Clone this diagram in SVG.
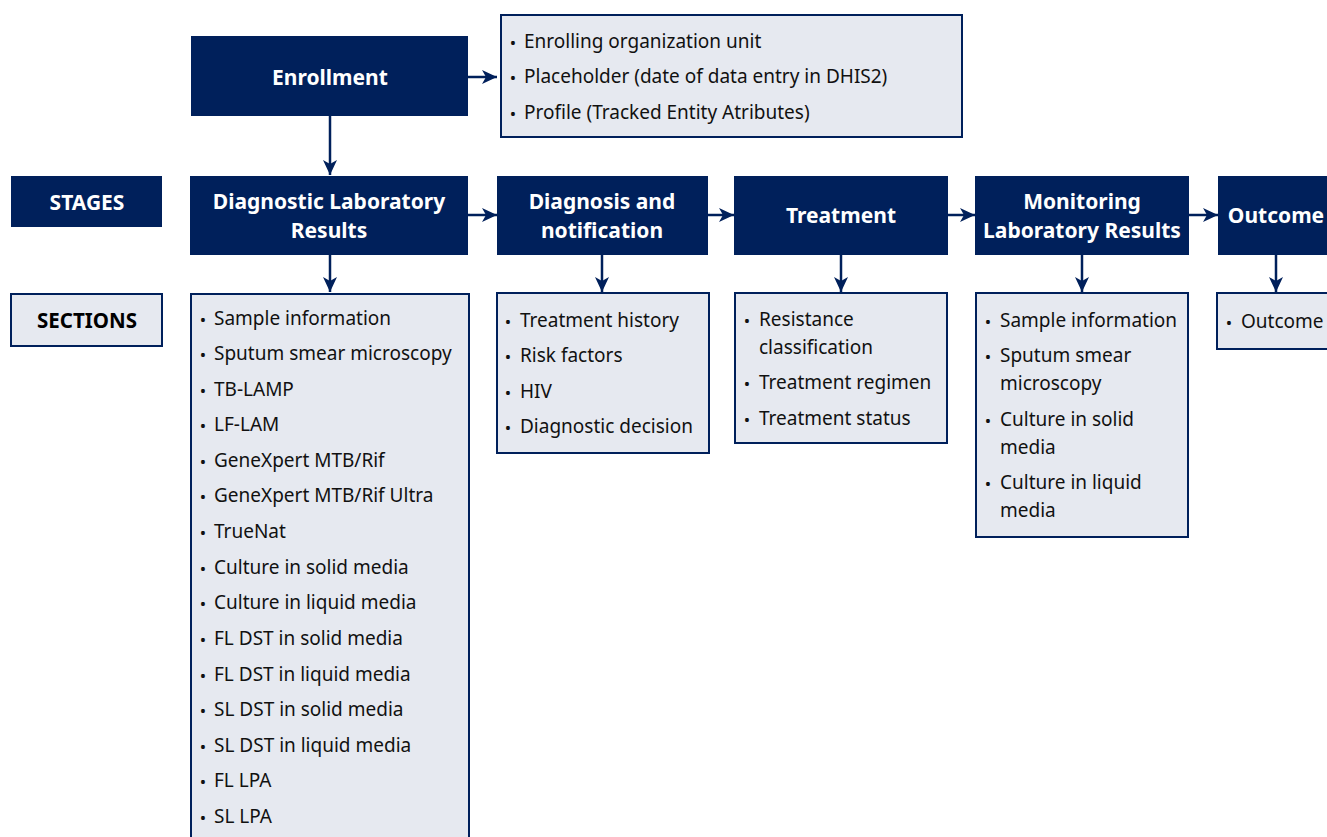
<svg xmlns="http://www.w3.org/2000/svg" width="1327" height="837" viewBox="0 0 1327 837">
<defs>
<style>
.stage{fill:#00205B;}
.sec{fill:#E6E9F0;stroke:#00205B;stroke-width:2;}
.st{font-family:"Noto Sans","Liberation Sans",sans-serif;font-weight:bold;font-size:21px;fill:#fff;text-anchor:middle;dominant-baseline:central;}
.sl{font-family:"Noto Sans","Liberation Sans",sans-serif;font-weight:bold;font-size:20.5px;fill:#000;text-anchor:middle;dominant-baseline:central;}
.li{font-family:"Noto Sans","Liberation Sans",sans-serif;font-size:19px;fill:#111;dominant-baseline:central;}
.bu{font-family:"Noto Sans","Liberation Sans",sans-serif;font-size:17px;fill:#111;dominant-baseline:central;text-anchor:middle;}
.con{stroke:#00205B;stroke-width:2.5;fill:none;marker-end:url(#ah);}
</style>
<marker id="ah" markerUnits="userSpaceOnUse" markerWidth="16" markerHeight="14" refX="15" refY="7" orient="auto">
<path d="M0,0 L15,7 L0,14 L4,7 z" fill="#00205B"/>
</marker>
</defs>
<rect width="1327" height="837" fill="#fff"/>
<g id="connectors">
<line class="con" x1="468" y1="77" x2="497" y2="77"/>
<line class="con" x1="330" y1="116" x2="330" y2="175"/>
<line class="con" x1="468" y1="215" x2="497" y2="215"/>
<line class="con" x1="708" y1="215" x2="734" y2="215"/>
<line class="con" x1="948" y1="215" x2="975" y2="215"/>
<line class="con" x1="1189" y1="215" x2="1218" y2="215"/>
<line class="con" x1="330" y1="255" x2="330" y2="292"/>
<line class="con" x1="602" y1="255" x2="602" y2="292"/>
<line class="con" x1="841" y1="255" x2="841" y2="292"/>
<line class="con" x1="1082" y1="255" x2="1082" y2="292"/>
<line class="con" x1="1276" y1="255" x2="1276" y2="292"/>
</g>
<g id="enrollment">
<rect class="stage" x="191" y="36" width="277" height="80"/>
<text class="st" x="330" y="77">Enrollment</text>
</g>
<g id="enrollment-info">
<rect class="sec" x="501" y="15" width="461" height="122"/>
<text class="bu" x="513" y="42">•</text><text class="li" x="524" y="41">Enrolling organization unit</text>
<text class="bu" x="513" y="77">•</text><text class="li" x="524" y="76">Placeholder (date of data entry in DHIS2)</text>
<text class="bu" x="513" y="113">•</text><text class="li" x="524" y="112">Profile (Tracked Entity Atributes)</text>
</g>
<g id="stages-label">
<rect class="stage" x="11" y="176" width="151" height="51"/>
<text class="st" x="87" y="202">STAGES</text>
</g>
<g id="sections-label">
<rect class="sec" x="11" y="294" width="151" height="52"/>
<text class="sl" x="87" y="320">SECTIONS</text>
</g>
<g id="stage-diaglab">
<rect class="stage" x="190" y="176" width="278" height="79"/>
<text class="st" x="329" y="201">Diagnostic Laboratory</text>
<text class="st" x="329" y="230">Results</text>
</g>
<g id="stage-diagnosis">
<rect class="stage" x="497" y="176" width="211" height="79"/>
<text class="st" x="602" y="201">Diagnosis and</text>
<text class="st" x="602" y="230">notification</text>
</g>
<g id="stage-treatment">
<rect class="stage" x="734" y="176" width="214" height="79"/>
<text class="st" x="841" y="215">Treatment</text>
</g>
<g id="stage-monitoring">
<rect class="stage" x="975" y="176" width="214" height="79"/>
<text class="st" x="1082" y="201">Monitoring</text>
<text class="st" x="1082" y="230">Laboratory Results</text>
</g>
<g id="stage-outcome">
<rect class="stage" x="1218" y="176" width="120" height="79"/>
<text class="st" x="1276" y="215">Outcome</text>
</g>
<g id="sec-diaglab">
<rect class="sec" x="191" y="294" width="278" height="560"/>
<text class="bu" x="203" y="319">•</text><text class="li" x="214" y="318">Sample information</text>
<text class="bu" x="203" y="354">•</text><text class="li" x="214" y="353">Sputum smear microscopy</text>
<text class="bu" x="203" y="390">•</text><text class="li" x="214" y="389">TB-LAMP</text>
<text class="bu" x="203" y="425">•</text><text class="li" x="214" y="424">LF-LAM</text>
<text class="bu" x="203" y="461">•</text><text class="li" x="214" y="460">GeneXpert MTB/Rif</text>
<text class="bu" x="203" y="496">•</text><text class="li" x="214" y="495">GeneXpert MTB/Rif Ultra</text>
<text class="bu" x="203" y="532">•</text><text class="li" x="214" y="531">TrueNat</text>
<text class="bu" x="203" y="568">•</text><text class="li" x="214" y="567">Culture in solid media</text>
<text class="bu" x="203" y="603">•</text><text class="li" x="214" y="602">Culture in liquid media</text>
<text class="bu" x="203" y="639">•</text><text class="li" x="214" y="638">FL DST in solid media</text>
<text class="bu" x="203" y="675">•</text><text class="li" x="214" y="674">FL DST in liquid media</text>
<text class="bu" x="203" y="710">•</text><text class="li" x="214" y="709">SL DST in solid media</text>
<text class="bu" x="203" y="746">•</text><text class="li" x="214" y="745">SL DST in liquid media</text>
<text class="bu" x="203" y="781">•</text><text class="li" x="214" y="780">FL LPA</text>
<text class="bu" x="203" y="817">•</text><text class="li" x="214" y="816">SL LPA</text>
</g>
<g id="sec-diagnosis">
<rect class="sec" x="497" y="293" width="212" height="160"/>
<text class="bu" x="508" y="321">•</text><text class="li" x="520" y="320">Treatment history</text>
<text class="bu" x="508" y="356">•</text><text class="li" x="520" y="355">Risk factors</text>
<text class="bu" x="508" y="392">•</text><text class="li" x="520" y="391">HIV</text>
<text class="bu" x="508" y="427">•</text><text class="li" x="520" y="426">Diagnostic decision</text>
</g>
<g id="sec-treatment">
<rect class="sec" x="735" y="293" width="212" height="150"/>
<text class="bu" x="747" y="320">•</text><text class="li" x="759" y="319">Resistance</text>
<text class="li" x="759" y="347">classification</text>
<text class="bu" x="747" y="383">•</text><text class="li" x="759" y="382">Treatment regimen</text>
<text class="bu" x="747" y="419">•</text><text class="li" x="759" y="418">Treatment status</text>
</g>
<g id="sec-monitoring">
<rect class="sec" x="976" y="293" width="212" height="244"/>
<text class="bu" x="988" y="321">•</text><text class="li" x="1000" y="320">Sample information</text>
<text class="bu" x="988" y="356">•</text><text class="li" x="1000" y="355">Sputum smear</text>
<text class="li" x="1000" y="383">microscopy</text>
<text class="bu" x="988" y="420">•</text><text class="li" x="1000" y="419">Culture in solid</text>
<text class="li" x="1000" y="447">media</text>
<text class="bu" x="988" y="483">•</text><text class="li" x="1000" y="482">Culture in liquid</text>
<text class="li" x="1000" y="510">media</text>
</g>
<g id="sec-outcome">
<rect class="sec" x="1217" y="293" width="120" height="56"/>
<text class="bu" x="1229" y="322">•</text><text class="li" x="1241" y="321">Outcome</text>
</g>
</svg>
